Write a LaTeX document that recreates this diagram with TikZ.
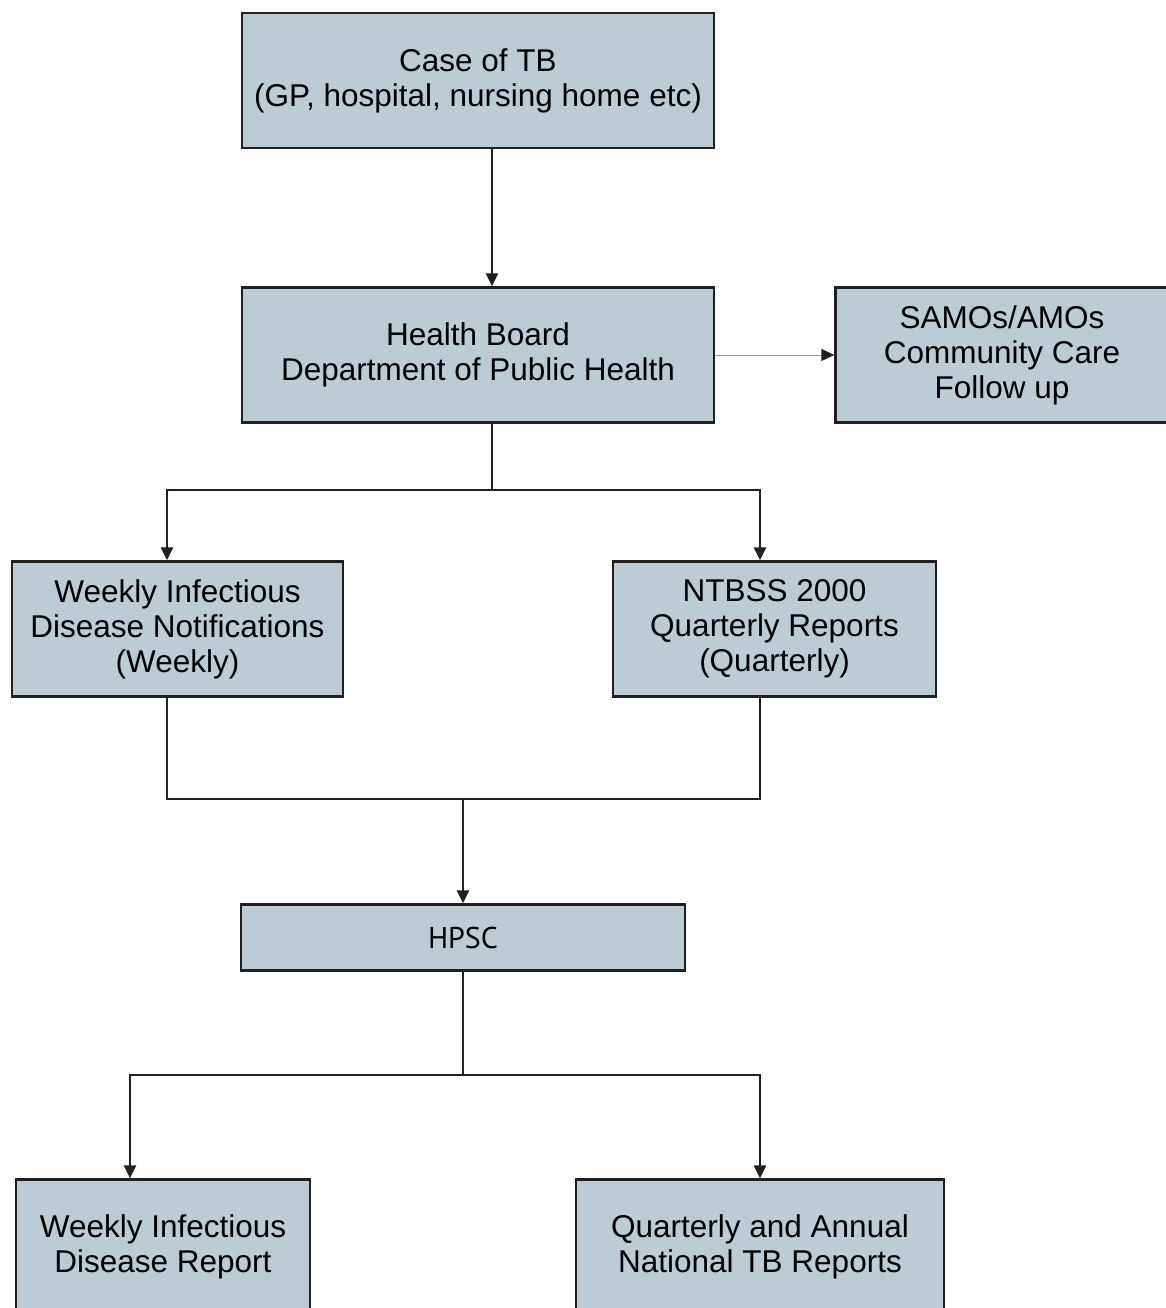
\documentclass[tikz,border=0pt]{standalone}
\usepackage{fontspec}
\setmainfont{Liberation Sans}
\newfontfamily\hpscfont{PT Sans}
\usepackage{xcolor}
\usetikzlibrary{arrows.meta}
\definecolor{BoxFill}{HTML}{BDCCD4}
\definecolor{BoxEdge}{HTML}{231F20}
\definecolor{ThinLine}{HTML}{9A9A9A}

\begin{document}
\begin{tikzpicture}[x=1pt,y=-1pt,font=\fontsize{31.5}{35}\selectfont,
    stepbox/.style={draw=BoxEdge,fill=BoxFill,line width=2.4pt,inner sep=0pt,
      align=center,minimum height=135pt},
    link/.style={draw=BoxEdge,line width=2.4pt},
    arrow/.style={link,-{Triangle[length=13pt,width=12pt]}}]
  \useasboundingbox (0,0) rectangle (1165,1308);

  % Case of TB
  \node[stepbox,minimum width=472pt] (case) at (478,80.5)
    {Case of TB\\(GP, hospital, nursing home etc)};

  % Health Board
  \node[stepbox,minimum width=472pt] (hb) at (478,355)
    {Health Board\\Department of Public Health};

  % SAMOs/AMOs (runs off the right edge)
  \node[stepbox,minimum width=333pt] (samo) at (1002,355)
    {SAMOs/AMOs\\Community Care\\Follow up};

  % Weekly notifications
  \node[stepbox,minimum width=331pt] (weekly) at (177.5,629)
    {Weekly Infectious\\Disease Notifications\\(Weekly)};

  % NTBSS 2000
  \node[stepbox,minimum width=323pt] (ntbss) at (774.5,629)
    {NTBSS 2000\\Quarterly Reports\\(Quarterly)};

  % HPSC
  \node[stepbox,minimum width=444pt,minimum height=66pt,font=\hpscfont\fontsize{30}{35}\selectfont]
    (hpsc) at (463,937.5) {HPSC};

  % Weekly report
  \node[stepbox,minimum width=294pt] (wreport) at (163,1247)
    {Weekly Infectious\\Disease Report};

  % Quarterly and annual reports
  \node[stepbox,minimum width=368pt] (qreport) at (760,1247)
    {Quarterly and Annual\\National TB Reports};

  % junction points
  \coordinate (split1) at (492,490);
  \coordinate (join) at (463,799);
  \coordinate (split2) at (463,1075);

  % Case -> Health Board
  \draw[arrow] ([xshift=14pt]case.south) -- ([xshift=14pt]hb.north);

  % Health Board -> SAMOs
  \draw[draw=ThinLine,line width=1pt,-{Triangle[length=13pt,width=12pt,color=BoxEdge]}]
    (hb.east) -- (samo.west);

  % Health Board -> both reporting streams
  \draw[link] ([xshift=14pt]hb.south) -- (split1);
  \draw[arrow] (split1) -| ([xshift=-10.5pt]weekly.north);
  \draw[arrow] (split1) -| ([xshift=-14.5pt]ntbss.north);

  % both streams -> HPSC
  \draw[link] ([xshift=-10.5pt]weekly.south) |- (join) -| ([xshift=-14.5pt]ntbss.south);
  \draw[arrow] (join) -- (join |- hpsc.north);

  % HPSC -> reports
  \draw[link] (hpsc.south) -- (split2);
  \draw[arrow] (split2) -| ([xshift=-33pt]wreport.north);
  \draw[arrow] (split2) -| (qreport.north);
\end{tikzpicture}
\end{document}
